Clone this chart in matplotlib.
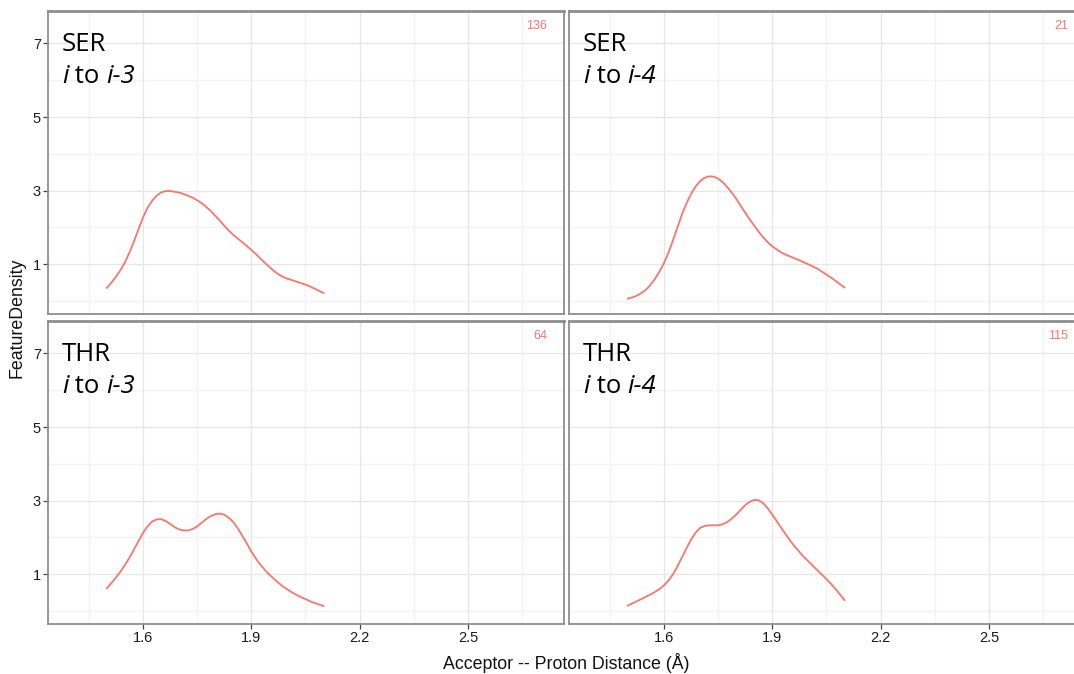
import matplotlib
matplotlib.use("Agg")
import matplotlib.pyplot as plt

# ---- data ----
distance = [1.5000, 1.5125, 1.5250, 1.5375, 1.5500, 1.5625, 1.5750, 1.5875,
            1.6000, 1.6125, 1.6250, 1.6375, 1.6500, 1.6625, 1.6750, 1.6875,
            1.7000, 1.7125, 1.7250, 1.7375, 1.7500, 1.7625, 1.7750, 1.7875,
            1.8000, 1.8125, 1.8250, 1.8375, 1.8500, 1.8625, 1.8750, 1.8875,
            1.9000, 1.9125, 1.9250, 1.9375, 1.9500, 1.9625, 1.9750, 1.9875,
            2.0000, 2.0125, 2.0250, 2.0375, 2.0500, 2.0625, 2.0750, 2.0875,
            2.1000]

ser_i3 = [0.36, 0.50, 0.66, 0.84, 1.05, 1.32, 1.62, 1.95,
          2.27, 2.53, 2.72, 2.86, 2.95, 2.99, 2.99, 2.97,
          2.95, 2.91, 2.86, 2.81, 2.74, 2.66, 2.56, 2.45,
          2.32, 2.19, 2.05, 1.92, 1.80, 1.70, 1.60, 1.50,
          1.39, 1.28, 1.16, 1.04, 0.93, 0.82, 0.73, 0.66,
          0.61, 0.57, 0.53, 0.49, 0.45, 0.40, 0.34, 0.28,
          0.22]
ser_i4 = [0.07, 0.10, 0.15, 0.22, 0.31, 0.44, 0.60, 0.80,
          1.03, 1.32, 1.65, 2.01, 2.36, 2.66, 2.91, 3.11,
          3.26, 3.35, 3.39, 3.38, 3.33, 3.23, 3.10, 2.95,
          2.78, 2.59, 2.40, 2.22, 2.05, 1.88, 1.73, 1.60,
          1.49, 1.40, 1.32, 1.26, 1.21, 1.16, 1.11, 1.05,
          1.00, 0.94, 0.88, 0.80, 0.72, 0.64, 0.55, 0.46,
          0.37]
thr_i3 = [0.62, 0.76, 0.91, 1.07, 1.25, 1.45, 1.67, 1.90,
          2.12, 2.30, 2.43, 2.49, 2.50, 2.45, 2.37, 2.28,
          2.22, 2.19, 2.19, 2.23, 2.30, 2.40, 2.50, 2.58,
          2.63, 2.65, 2.62, 2.54, 2.42, 2.25, 2.05, 1.84,
          1.62, 1.43, 1.26, 1.12, 0.99, 0.88, 0.77, 0.67,
          0.59, 0.51, 0.44, 0.38, 0.33, 0.27, 0.22, 0.18,
          0.14]
thr_i4 = [0.15, 0.21, 0.27, 0.33, 0.39, 0.45, 0.52, 0.60,
          0.70, 0.83, 1.00, 1.22, 1.46, 1.71, 1.94, 2.13,
          2.26, 2.31, 2.33, 2.33, 2.33, 2.36, 2.42, 2.51,
          2.62, 2.75, 2.88, 2.97, 3.02, 3.01, 2.93, 2.79,
          2.62, 2.44, 2.26, 2.08, 1.91, 1.75, 1.61, 1.47,
          1.35, 1.23, 1.11, 0.99, 0.87, 0.74, 0.60, 0.45,
          0.30]

residues = ["SER", "SER", "THR", "THR"]
separations = ["3", "4", "3", "4"]
counts = ["136", "21", "64", "115"]
series = [ser_i3, ser_i4, thr_i3, thr_i4]

x_ticks = [1.6, 1.9, 2.2, 2.5]
x_minor = [1.45, 1.75, 2.05, 2.35, 2.65]
y_ticks = [1, 3, 5, 7]
y_minor = [0, 2, 4, 6]

# ---- figure ----
W, H = 1074, 674
fig = plt.figure(figsize=(W / 100, H / 100), dpi=100)

line_color = "#F8766D"
border_color = "#8E8E8E"
xlim = (1.337, 2.766)
ylim = (-0.35, 7.88)
label_font = "Open Sans"
label_size = 18.5

# panel boxes in pixels: (left, top, right, bottom)
boxes = [(48, 11, 564, 314), (569, 11, 1085, 314),
         (48, 321, 564, 624), (569, 321, 1085, 624)]

for i, (l, t, r, b) in enumerate(boxes):
    ax = fig.add_axes([l / W, 1 - b / H, (r - l) / W, (b - t) / H])
    ax.set_xlim(*xlim)
    ax.set_ylim(*ylim)
    for v in x_minor:
        ax.axvline(v, color="#F3F3F3", lw=1.0, zorder=0)
    for v in y_minor:
        ax.axhline(v, color="#F3F3F3", lw=1.0, zorder=0)
    for v in x_ticks:
        ax.axvline(v, color="#E6E6E6", lw=0.9, zorder=0)
    for v in y_ticks:
        ax.axhline(v, color="#E6E6E6", lw=0.9, zorder=0)
    ax.plot(distance, series[i], color=line_color, lw=1.3, zorder=3,
            solid_joinstyle="round")
    for s in ax.spines.values():
        s.set_color(border_color)
        s.set_linewidth(1.3)
    ax.spines["top"].set_linewidth(2.0)
    ax.set_xticks(x_ticks)
    ax.set_yticks(y_ticks)
    ax.tick_params(direction="out", length=3.5, width=0.9, color="#444444",
                   labelsize=10.5, labelcolor="#1a1a1a", pad=1.5)
    ax.set_xticklabels([f"{v:.1f}" for v in x_ticks], family="Liberation Sans")
    ax.set_yticklabels([str(v) for v in y_ticks], family="Liberation Sans")
    if i in (0, 1):
        ax.tick_params(axis="x", length=0, labelbottom=False)
    if i in (1, 3):
        ax.tick_params(axis="y", length=0, labelleft=False)
    # facet labels
    tx = 14 / (r - l)
    ax.text(tx, 1 - 40 / (b - t), residues[i], transform=ax.transAxes,
            fontsize=label_size, family=label_font, ha="left", va="baseline")
    t1 = ax.text(tx, 1 - 72 / (b - t), "i", transform=ax.transAxes,
                 fontsize=label_size, family=label_font, style="italic",
                 ha="left", va="baseline")
    t2 = ax.annotate(" to ", xy=(1, 0), xycoords=t1, fontsize=label_size,
                     family=label_font, ha="left", va="bottom")
    ax.annotate("i-" + separations[i], xy=(1, 0), xycoords=t2,
                fontsize=label_size, family=label_font, style="italic",
                ha="left", va="bottom")
    ax.text(1 - 17 / (r - l), 1 - 15 / (b - t), counts[i], transform=ax.transAxes,
            fontsize=9, color=line_color, family="Liberation Sans",
            ha="right", va="center")

fig.text(566 / W, 1 - 663 / H, "Acceptor -- Proton Distance (Å)",
         ha="center", va="center", fontsize=12.8, family="Liberation Sans",
         color="#111111")
fig.text(17 / W, 1 - 318 / H, "FeatureDensity", rotation=90,
         ha="center", va="center", fontsize=12.8, family="Liberation Sans",
         color="#111111")

fig.savefig("out.png", dpi=100)
